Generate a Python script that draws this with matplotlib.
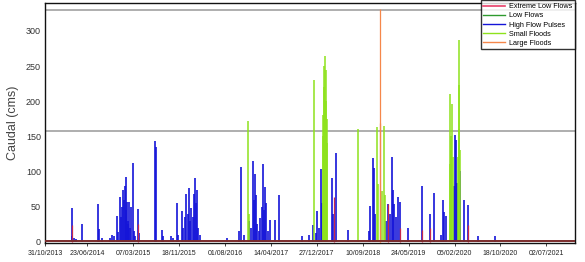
import matplotlib
matplotlib.use('Agg')
import matplotlib.pyplot as plt
import pandas as pd
from matplotlib.lines import Line2D

plt.rcParams['font.family'] = ['Liberation Sans', 'DejaVu Sans']

# ---- data ----
tick_dates = ["2013-10-31", "2014-06-23", "2015-03-07", "2015-11-18", "2016-08-01",
              "2017-04-14", "2017-12-27", "2018-09-10", "2019-05-24", "2020-02-05",
              "2020-10-18", "2021-07-02"]

baseline_dates = ["2013-10-31", "2021-12-09"]
baseline_flow = [1.2, 1.2]

thresholds = [330, 158]

# high flow pulses (blue)
hfp_dates = ["2014-03-28", "2014-04-01", "2014-04-10", "2014-04-20", "2014-05-27", "2014-08-23",
             "2014-08-28", "2014-09-14", "2014-10-29", "2014-11-09", "2014-11-20", "2014-12-05",
             "2014-12-15", "2014-12-24", "2014-12-30", "2015-01-05", "2015-01-11", "2015-01-16",
             "2015-01-20", "2015-01-24", "2015-01-28", "2015-02-01", "2015-02-05", "2015-02-08",
             "2015-02-12", "2015-02-18", "2015-02-24", "2015-03-04", "2015-03-10", "2015-03-20",
             "2015-04-02", "2015-04-08", "2015-07-10", "2015-07-13", "2015-08-16", "2015-08-20",
             "2015-10-07", "2015-10-15", "2015-11-07", "2015-11-12", "2015-12-04", "2015-12-12",
             "2015-12-20", "2015-12-29", "2016-01-05", "2016-01-12", "2016-01-18", "2016-01-26",
             "2016-02-03", "2016-02-10", "2016-02-18", "2016-02-22", "2016-02-29", "2016-03-05",
             "2016-03-15", "2016-08-13", "2016-10-20", "2016-10-27", "2016-11-17", "2016-12-15",
             "2016-12-25", "2017-01-03", "2017-01-08", "2017-01-15", "2017-01-20", "2017-01-25",
             "2017-02-05", "2017-02-15", "2017-02-22", "2017-02-28", "2017-03-05", "2017-03-11",
             "2017-03-20", "2017-03-28", "2017-04-12", "2017-05-06", "2017-05-29", "2017-10-06",
             "2017-11-14", "2017-12-05", "2017-12-20", "2017-12-31", "2018-01-08", "2018-01-20",
             "2018-01-26", "2018-03-22", "2018-03-27", "2018-04-12", "2018-06-17", "2018-10-15",
             "2018-10-21", "2018-11-05", "2018-11-14", "2018-11-20", "2019-01-20", "2019-01-29",
             "2019-02-10", "2019-02-19", "2019-02-28", "2019-03-06", "2019-03-15", "2019-03-26",
             "2019-04-08", "2019-05-23", "2019-08-06", "2019-09-21", "2019-10-15", "2019-11-20",
             "2019-12-01", "2019-12-08", "2019-12-19", "2020-02-02", "2020-02-09", "2020-02-13",
             "2020-02-20", "2020-03-08", "2020-03-31", "2020-04-19", "2020-06-17", "2020-09-18"]
hfp_flow = [8, 48, 6, 4, 25, 54,
            18, 6, 6, 10, 8, 37,
            14, 64, 35, 50, 74, 60,
            80, 92, 45, 57, 30, 25,
            57, 20, 50, 112, 15, 8,
            46, 12, 143, 135, 17, 8,
            8, 5, 55, 10, 44, 20,
            35, 68, 40, 76, 30, 48,
            35, 68, 91, 55, 74, 20,
            10, 5, 15, 106, 10, 30,
            20, 115, 60, 97, 67, 25,
            15, 34, 50, 110, 45, 78,
            55, 15, 31, 31, 67, 8,
            10, 24, 12, 44, 20, 103,
            55, 91, 40, 127, 16, 15,
            51, 119, 105, 40, 30, 53,
            40, 121, 73, 53, 35, 64,
            57, 19, 80, 39, 69, 10,
            59, 43, 37, 79, 152, 145,
            83, 101, 59, 52, 8, 8]

# red segments
elf_dates = ["2014-04-01", "2015-04-02", "2018-03-31", "2019-01-29", "2019-04-08",
             "2019-08-06", "2019-09-21", "2020-04-19"]
elf_flow = [24, 25, 64, 53, 20, 17, 20, 24]

# small floods (light green)
sf_dates = ["2016-12-09", "2016-12-12", "2017-12-14", "2018-01-30", "2018-02-02", "2018-02-05",
            "2018-02-08", "2018-02-11", "2018-02-14", "2018-02-17", "2018-02-20", "2018-02-23",
            "2018-08-13", "2018-11-27", "2018-12-02", "2018-12-28", "2019-01-07", "2019-01-13",
            "2020-01-08", "2020-01-11", "2020-01-14", "2020-01-18", "2020-01-24", "2020-01-28",
            "2020-02-24", "2020-02-27", "2020-03-01", "2020-03-03", "2020-03-05"]
sf_flow = [172, 40, 230, 150, 180, 220,
           250, 264, 245, 200, 175, 140,
           160, 163, 82, 72, 165, 67,
           110, 211, 150, 130, 196, 120,
           120, 160, 223, 287, 130]

# large floods (orange)
lf_dates = ["2018-12-15", "2018-12-18"]
lf_flow = [332, 169]

C_ELF = '#e8406a'
C_LOW = '#2e9a2e'
C_HFP = '#1414d8'
C_SF = '#8ee21c'
C_LF = '#f5874a'

fig = plt.figure(figsize=(5.85, 2.62), dpi=100)
fig.patch.set_facecolor('white')
ax = fig.add_axes([0.077, 0.072, 0.906, 0.917])

for t in thresholds:
    ax.axhline(t, color='#a8a8a8', lw=1.3, zorder=1)

ax.vlines(pd.to_datetime(hfp_dates), 0, hfp_flow, color=C_HFP, lw=1.2, zorder=2)
ax.vlines(pd.to_datetime(sf_dates), 0, sf_flow, color=C_SF, lw=1.1, zorder=3)
ax.vlines(pd.to_datetime(elf_dates), 0, elf_flow, color='#c8284a', lw=0.9, zorder=3)
ax.vlines(pd.to_datetime(lf_dates), 0, lf_flow, color=C_LF, lw=0.9, zorder=4)
ax.plot(pd.to_datetime(baseline_dates), baseline_flow, color='#7a2b2b', lw=1.4, zorder=5)

ax.set_xlim(pd.Timestamp("2013-10-31"), pd.Timestamp("2021-12-09"))
ax.set_ylim(-2, 340)
ax.set_yticks([0, 50, 100, 150, 200, 250, 300])
ax.set_xticks(pd.to_datetime(tick_dates))
ax.set_xticklabels([pd.Timestamp(d).strftime('%d/%m/%Y') for d in tick_dates])
ax.tick_params(axis='x', labelsize=5, length=2, width=0.6, pad=3, colors='#222222')
ax.tick_params(axis='y', labelsize=6.5, length=0, pad=3, colors='#333333')
ax.set_ylabel('Caudal (cms)', fontsize=9, color='#444444', labelpad=5)
for s in ax.spines.values():
    s.set_color('#111111')
    s.set_linewidth(1.0)

handles = [Line2D([], [], color=C_ELF, lw=1.2),
           Line2D([], [], color=C_LOW, lw=1.0),
           Line2D([], [], color=C_HFP, lw=1.0),
           Line2D([], [], color=C_SF, lw=1.0),
           Line2D([], [], color=C_LF, lw=1.0)]
labels = ['Extreme Low Flows', 'Low Flows', 'High Flow Pulses', 'Small Floods', 'Large Floods']
leg = ax.legend(handles, labels, loc='upper right', bbox_to_anchor=(1.0, 1.01),
                fontsize=5.2, frameon=True, fancybox=False, borderaxespad=0,
                handlelength=3.0, handletextpad=0.6, labelspacing=0.3,
                borderpad=0.35)
leg.get_frame().set_edgecolor('black')
leg.get_frame().set_linewidth(1.0)

plt.savefig('out.png', dpi=100, facecolor='white')
plt.close()
